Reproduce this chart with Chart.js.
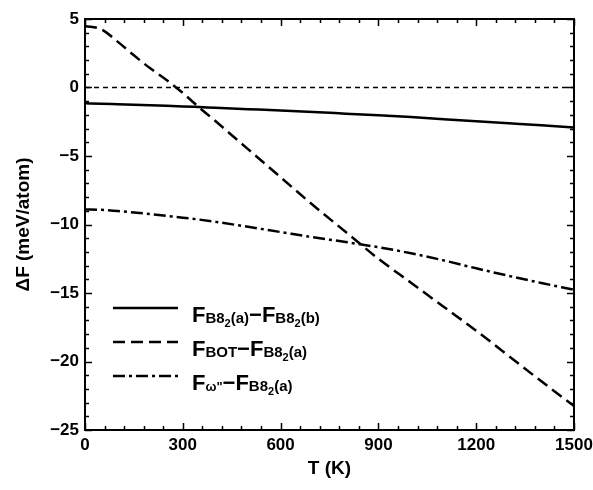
<!DOCTYPE html>
<html>
<head>
<meta charset="utf-8">
<script src="https://cdn.jsdelivr.net/npm/chart.js@4.4.1/dist/chart.umd.min.js"></script>
<style>
  html, body { margin: 0; padding: 0; background: #fff; }
</style>
</head>
<body>
<canvas id="grafica" width="593" height="490"></canvas>
<script>
// Temperaturas (K) y diferencias de energia libre (meV/atom)
const temperaturas = [0, 50, 100, 150, 200, 250, 300, 350, 400, 500, 600, 700, 800, 900, 1000, 1100, 1200, 1300, 1400, 1500];
const dfB8a_B8b = [-1.15, -1.18, -1.22, -1.26, -1.30, -1.34, -1.38, -1.43, -1.48, -1.58, -1.68, -1.79, -1.91, -2.03, -2.16, -2.31, -2.46, -2.61, -2.76, -2.92];
const dfBOT_B8a = [4.5, 4.25, 3.35, 2.35, 1.4, 0.55, -0.4, -1.45, -2.45, -4.5, -6.55, -8.6, -10.55, -12.5, -14.25, -16.0, -17.75, -19.6, -21.45, -23.25];
const dfOmega_B8a = [-8.9, -8.93, -9.02, -9.12, -9.24, -9.37, -9.5, -9.64, -9.8, -10.17, -10.55, -10.93, -11.28, -11.66, -12.1, -12.62, -13.2, -13.75, -14.27, -14.77];

const xTicks = [0, 300, 600, 900, 1200, 1500];
const yTicks = [5, 0, -5, -10, -15, -20, -25];
const xTitulo = 'T (K)';
const yTitulo = '\u0394F (meV/atom)';

// etiquetas con subindices: [texto, estilo]
const etiquetas = [
    [['F', 'n'], ['B8', 's'], ['2', 'ss'], ['(a)', 's'], ['\u2212F', 'n'], ['B8', 's'], ['2', 'ss'], ['(b)', 's']],
    [['F', 'n'], ['BOT', 's'], ['\u2212F', 'n'], ['B8', 's'], ['2', 'ss'], ['(a)', 's']],
    [['F', 'n'], ['\u03c9"', 'so'], ['\u2212F', 'n'], ['B8', 's'], ['2', 'ss'], ['(a)', 's']]
];

const familia = '"Liberation Sans", Arial, sans-serif';
const estilos = {
    n:  { font: 'bold 22px ' + familia, dy: 0 },
    s:  { font: 'bold 15px ' + familia, dy: 1 },
    so: { font: 'bold 13px ' + familia, dy: 1 },
    ss: { font: 'bold 11px ' + familia, dy: 5 }
};

function puntos(valores) {
    return temperaturas.map((t, i) => ({ x: t, y: valores[i] }));
}

function etiquetaNum(v) {
    return v < 0 ? '\u2212' + Math.abs(v) : String(v);
}

const marco = {
    id: 'marco',
    afterDatasetsDraw(chart) {
        const ctx = chart.ctx;
        const a = chart.chartArea;
        const sx = chart.scales.x;
        const sy = chart.scales.y;
        ctx.save();
        ctx.strokeStyle = '#000';
        ctx.fillStyle = '#000';
        ctx.lineWidth = 2;
        ctx.setLineDash([]);
        ctx.strokeRect(a.left, a.top, a.right - a.left, a.bottom - a.top);

        // ticks hacia adentro en los cuatro lados
        ctx.lineWidth = 1.5;
        ctx.beginPath();
        for (let v = 0; v <= 1500; v += 60) {
            const px = Math.round(sx.getPixelForValue(v)) + 0.5;
            const len = v % 300 === 0 ? 7 : 4;
            ctx.moveTo(px, a.bottom); ctx.lineTo(px, a.bottom - len);
            ctx.moveTo(px, a.top); ctx.lineTo(px, a.top + len);
        }
        for (let v = -25; v <= 5; v += 1) {
            const py = Math.round(sy.getPixelForValue(v)) + 0.5;
            const len = v % 5 === 0 ? 7 : 4;
            ctx.moveTo(a.left, py); ctx.lineTo(a.left + len, py);
            ctx.moveTo(a.right, py); ctx.lineTo(a.right - len, py);
        }
        ctx.stroke();

        ctx.font = 'bold 17px ' + familia;
        ctx.textBaseline = 'middle';
        ctx.textAlign = 'center';
        xTicks.forEach(v => ctx.fillText(etiquetaNum(v), sx.getPixelForValue(v), a.bottom + 15));
        ctx.textAlign = 'right';
        yTicks.forEach(v => ctx.fillText(etiquetaNum(v), a.left - 6, sy.getPixelForValue(v)));

        ctx.font = 'bold 19px ' + familia;
        ctx.textAlign = 'center';
        ctx.fillText(xTitulo, (a.left + a.right) / 2, a.bottom + 39);
        ctx.save();
        ctx.translate(24, (a.top + a.bottom) / 2);
        ctx.rotate(-Math.PI / 2);
        ctx.fillText(yTitulo, 0, 0);
        ctx.restore();

        // leyenda
        ctx.textAlign = 'left';
        ctx.textBaseline = 'alphabetic';
        const sets = chart.data.datasets.filter(d => d.enLeyenda);
        sets.forEach((d, i) => {
            const base = 322 + i * 34;
            ctx.lineWidth = d.borderWidth;
            ctx.setLineDash(d.borderDash || []);
            ctx.beginPath();
            ctx.moveTo(113, base - 14);
            ctx.lineTo(178, base - 14);
            ctx.stroke();
            ctx.setLineDash([]);
            let x = 192;
            etiquetas[i].forEach(([txt, st]) => {
                ctx.font = estilos[st].font;
                ctx.fillText(txt, x, base + estilos[st].dy);
                x += ctx.measureText(txt).width;
            });
        });
        ctx.restore();
    }
};

new Chart('grafica', {
    type: 'line',
    data: {
        datasets: [
            {
                label: 'cero',
                data: [{ x: 0, y: 0 }, { x: 1500, y: 0 }],
                borderColor: '#000',
                borderWidth: 1.3,
                borderDash: [5, 4]
            },
            {
                label: 'B8a-B8b',
                data: puntos(dfB8a_B8b),
                borderColor: '#000',
                borderWidth: 2.5,
                enLeyenda: true
            },
            {
                label: 'BOT-B8a',
                data: puntos(dfBOT_B8a),
                borderColor: '#000',
                borderWidth: 2.5,
                borderDash: [12, 6],
                enLeyenda: true
            },
            {
                label: 'omega-B8a',
                data: puntos(dfOmega_B8a),
                borderColor: '#000',
                borderWidth: 2.5,
                borderDash: [12, 4, 3, 4],
                enLeyenda: true
            }
        ]
    },
    options: {
        responsive: false,
        animation: false,
        devicePixelRatio: 1,
        layout: { padding: { left: 85, right: 19, top: 19, bottom: 60 } },
        elements: {
            point: { radius: 0 },
            line: { cubicInterpolationMode: 'monotone', fill: false }
        },
        scales: {
            x: { type: 'linear', min: 0, max: 1500, display: false },
            y: { type: 'linear', min: -25, max: 5, display: false }
        },
        plugins: {
            legend: { display: false },
            tooltip: { enabled: false }
        }
    },
    plugins: [marco]
});
</script>
</body>
</html>
